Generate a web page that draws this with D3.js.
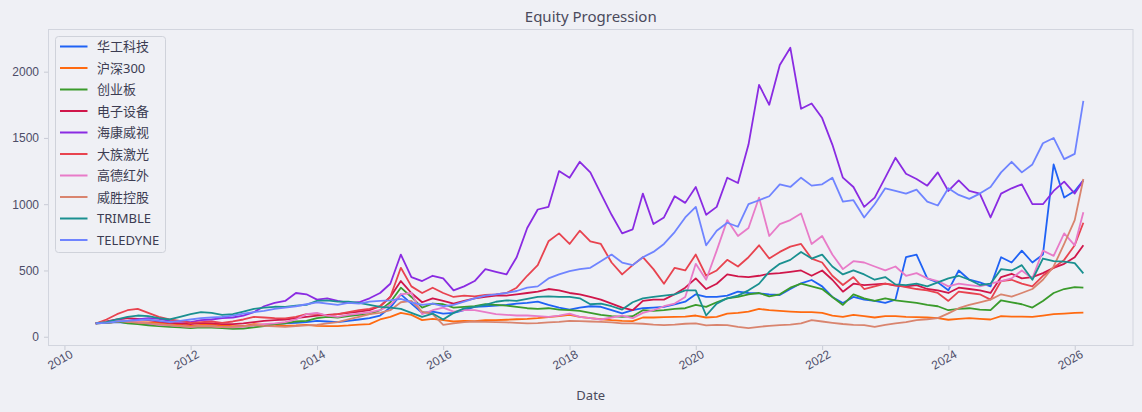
<!DOCTYPE html>
<html>
<head>
<meta charset="utf-8">
<script src="https://cdn.jsdelivr.net/npm/d3@7/dist/d3.min.js"></script>
<style>
    body { margin: 0; background: #eff0f5; }
    svg { display: block; font-family: "Noto Sans", "Noto Sans CJK SC", sans-serif; }
    .tick text { fill: #4d4d68; font-size: 12px; }
    .tick line { stroke: #c8cbd5; }
    .domain { display: none; }
    .line { fill: none; stroke-width: 1.8; stroke-linejoin: round; }
    .figtitle { fill: #4a4a5c; font-size: 15px; text-anchor: middle; }
    .xlabel { fill: #4a4a5c; font-size: 13px; text-anchor: middle; }
    .legtext { fill: #3c3c52; font-size: 13px; }
</style>
</head>
<body>
<script>
// Series names and colours, in legend order
const names = ["华工科技", "沪深300", "创业板", "电子设备", "海康威视",
    "大族激光", "高德红外", "威胜控股", "TRIMBLE", "TELEDYNE"];
const colors = ["#1f62f5", "#ff6a10", "#3a9b2b", "#d0164a", "#8a2be2",
    "#e8434f", "#e87bc8", "#d9846e", "#1a9090", "#6f84ff"];

// Sample dates: every two months from Jul 2010, plus the last day
const dates = d3.timeMonth.every(2)
    .range(new Date(2010, 6, 1), new Date(2026, 1, 1))
    .concat([new Date(2026, 1, 20)]);

// Values (start = 100), one row per year
const hgkj = [100, 105, 110,
    105, 100, 95, 90, 85, 80,
    80, 85, 80, 75, 75, 80,
    85, 90, 95, 100, 105, 110,
    120, 115, 110, 120, 130, 140,
    160, 220, 320, 250, 180, 190,
    175, 180, 200, 225, 230, 235,
    240, 250, 255, 265, 240, 220,
    205, 220, 230, 226, 200, 176,
    200, 215, 220, 226, 245, 264,
    320, 300, 300, 310, 340, 330,
    327, 320, 315, 360, 403, 428,
    380, 300, 255, 300, 280, 270,
    255, 280, 600, 620, 440, 410,
    350, 500, 430, 410, 380, 600,
    560, 650, 560, 620, 1300, 1050,
    1100, 1180];
const hs300 = [100, 105, 112,
    108, 110, 108, 105, 95, 92,
    82, 90, 92, 85, 80, 80,
    95, 92, 90, 82, 85, 90,
    82, 80, 80, 85, 92, 95,
    130, 150, 180, 165, 125, 135,
    125, 115, 120, 118, 125, 125,
    128, 132, 135, 140, 148, 155,
    165, 150, 140, 132, 125, 120,
    118, 145, 145, 148, 150, 152,
    160, 145, 150, 175, 180, 190,
    210, 200, 195, 190, 185, 185,
    180, 160, 150, 165, 155, 145,
    155, 155, 150, 148, 145, 140,
    128, 135, 140, 135, 130, 155,
    152, 152, 150, 160, 170, 175,
    180, 182];
const cyb = [100, 105, 115,
    100, 95, 85, 80, 75, 70,
    65, 70, 68, 65, 60, 62,
    70, 80, 95, 100, 115, 120,
    140, 150, 145, 155, 165, 170,
    200, 260, 370, 300, 220, 250,
    245, 220, 225, 230, 245, 240,
    235, 225, 215, 210, 215, 205,
    200, 195, 180, 165, 155, 150,
    155, 200, 195, 200, 210, 215,
    240, 225, 260, 290, 300, 320,
    330, 305, 320, 370, 400, 380,
    360, 300, 240, 320, 290, 270,
    290, 275, 265, 255, 240, 230,
    200, 210, 215, 205, 200, 275,
    260, 245, 220, 270, 330, 360,
    375, 370];
const dzsb = [100, 115, 130,
    140, 135, 125, 115, 105, 100,
    95, 105, 100, 95, 95, 100,
    110, 120, 125, 130, 140, 150,
    160, 165, 170, 180, 190, 200,
    230, 300, 420, 330, 260, 290,
    270, 250, 270, 290, 300, 310,
    310, 320, 330, 340, 360, 350,
    330, 320, 300, 280, 250, 220,
    200, 270, 280, 280, 320, 370,
    440, 360, 400, 470, 455, 450,
    460, 475, 480, 490, 500, 460,
    500, 430, 340, 400, 390, 395,
    400, 385, 380, 390, 360, 350,
    330, 370, 360, 350, 330, 450,
    475, 440, 450, 480, 520, 550,
    600, 690];
const hkws = [100, 110, 125,
    120, 130, 140, 135, 120, 115,
    110, 125, 130, 140, 145, 160,
    185, 230, 255, 270, 330, 320,
    280, 290, 270, 255, 260, 290,
    330, 400, 620, 450, 420, 460,
    440, 350, 380, 420, 510, 490,
    470, 600, 820, 960, 980, 1250,
    1200, 1320, 1240, 1080, 920, 780,
    810, 1080, 850, 900, 1060, 1010,
    1130, 920, 980, 1200, 1160, 1450,
    1900, 1750, 2050, 2180, 1720, 1760,
    1650, 1450, 1200, 1130, 980, 1050,
    1200, 1350, 1230, 1190, 1140, 1240,
    1100, 1180, 1100, 1080, 900, 1080,
    1120, 1150, 1000, 1000, 1100, 1170,
    1080, 1180];
const dzjg = [100, 130, 170,
    200, 210, 180, 150, 130, 120,
    105, 110, 115, 105, 115, 130,
    150, 145, 140, 138, 150, 170,
    175, 160, 170, 185, 200, 210,
    230, 300, 520, 380, 330, 370,
    330, 300, 310, 305, 315, 320,
    330, 370, 460, 540, 720, 780,
    700, 800, 720, 700, 560, 470,
    540, 600, 510, 400, 520, 500,
    620, 460, 500, 580, 530, 600,
    690, 590, 640, 680, 700, 590,
    560, 460, 390, 450, 360, 380,
    400, 390, 375, 360, 350, 330,
    270, 340, 330, 320, 280, 420,
    430, 400, 380, 460, 520, 580,
    690, 860];
const gdhw = [100, 110, 120,
    115, 110, 100, 90, 85, 80,
    75, 80, 78, 72, 70, 75,
    85, 95, 100, 110, 130, 170,
    180, 160, 150, 165, 175, 185,
    200, 240, 320, 330, 170, 200,
    220, 190, 200, 200, 185, 170,
    165, 160, 160, 155, 150, 160,
    175, 150, 140, 130, 145, 160,
    140, 180, 200, 230, 250, 300,
    550, 430, 650, 880, 760, 820,
    1050, 760, 850, 880, 930, 700,
    760, 620, 510, 570, 560, 530,
    500, 530, 460, 480, 440, 420,
    380, 400, 390, 380, 400, 420,
    440, 500, 440, 650, 610, 780,
    690, 940];
const wskg = [100, 110, 120,
    115, 105, 100, 95, 88, 80,
    75, 80, 78, 72, 75, 80,
    88, 82, 78, 75, 80, 85,
    90, 100, 110, 130, 150, 170,
    180, 200, 260, 270, 190, 170,
    90, 100, 110, 115, 112, 110,
    108, 105, 100, 102, 108, 112,
    120, 118, 115, 112, 108, 100,
    100, 98, 92, 88, 92, 98,
    100, 85, 90, 88, 75, 65,
    75, 82, 88, 92, 100, 125,
    115, 105, 96, 90, 88, 75,
    90, 101, 110, 126, 132, 140,
    176, 215, 240, 260, 280, 320,
    302, 330, 360, 430, 530, 700,
    880, 1190];
const trimble = [100, 110, 130,
    150, 160, 155, 140, 130, 150,
    170, 185, 180, 165, 170, 190,
    210, 220, 226, 225, 235, 240,
    270, 275, 265, 265, 255, 240,
    225, 220, 210, 180, 150, 175,
    130, 180, 214, 226, 240, 264,
    275, 270, 285, 300, 305, 300,
    300, 290, 245, 250, 230, 205,
    260, 290, 300, 310, 320, 350,
    350, 160, 250, 290, 310, 350,
    400, 490, 550, 580, 640, 590,
    620, 530, 470, 500, 470, 430,
    450, 395, 390, 400, 380, 410,
    440, 460, 430, 390, 400, 510,
    500, 540, 430, 590, 570, 566,
    555, 478];
const teledyne = [100, 105, 115,
    120, 125, 130, 120, 110, 120,
    130, 140, 145, 150, 160, 175,
    185, 195, 210, 220, 230, 245,
    260, 250, 240, 255, 250, 265,
    270, 275, 285, 260, 240, 250,
    230, 240, 265, 290, 310, 320,
    330, 345, 370, 380, 440, 470,
    495, 510, 520, 570, 620, 560,
    540, 600, 640, 700, 790, 900,
    980, 690, 800, 860, 830, 1000,
    1030, 1060, 1150, 1130, 1200, 1140,
    1150, 1200, 1020, 1030, 900, 1000,
    1120, 1100, 1080, 1110, 1020, 990,
    1120, 1070, 1040, 1080, 1130, 1240,
    1320, 1240, 1300, 1460, 1500, 1340,
    1380, 1780];

const seriesValues = [hgkj, hs300, cyb, dzsb, hkws, dzjg, gdhw, wskg, trimble, teledyne];

// Axis limits and ticks
const xLimits = [new Date(2009, 8, 28), new Date(2026, 11, 7)];
const yLimits = [-70, 2322];
const xTickYears = [2010, 2012, 2014, 2016, 2018, 2020, 2022, 2024, 2026];
const yTicks = [0, 500, 1000, 1500, 2000];

const W = 1142, H = 412;
const margin = {top: 29, left: 48, right: 8.5, bottom: 66};
const plotW = W - margin.left - margin.right,
    plotH = H - margin.top - margin.bottom;

const svg = d3.select("body")
    .append("svg")
    .attr("width", W)
    .attr("height", H);

svg.append("rect")
    .attr("width", W)
    .attr("height", H)
    .attr("fill", "#eff0f5");

// Figure title
svg.append("text")
    .attr("x", margin.left + plotW / 2)
    .attr("y", 22)
    .classed("figtitle", true)
    .text("Equity Progression");

const x = d3.scaleTime().domain(xLimits).range([0, plotW]);
const y = d3.scaleLinear().domain(yLimits).range([plotH, 0]);

const myPlot = svg.append("g")
    .attr("transform", "translate(" + margin.left + "," + margin.top + ")");

// x axis with rotated year labels
myPlot.append("g")
    .attr("id", "xaxis")
    .attr("transform", "translate(0," + plotH + ")")
    .call(d3.axisBottom(x)
        .tickValues(xTickYears.map(yr => new Date(yr, 0, 1)))
        .tickFormat(d3.timeFormat("%Y"))
        .tickSizeInner(4).tickSizeOuter(0).tickPadding(3))
    .selectAll(".tick text")
    .attr("text-anchor", "end")
    .attr("dx", "0.2em")
    .attr("dy", "0.55em")
    .attr("transform", "rotate(-30)");

myPlot.append("g")
    .attr("id", "yaxis")
    .call(d3.axisLeft(y)
        .tickValues(yTicks)
        .tickFormat(d3.format("d"))
        .tickSizeInner(4).tickSizeOuter(0).tickPadding(5));

// x label
svg.append("text")
    .attr("x", margin.left + plotW / 2)
    .attr("y", 400)
    .classed("xlabel", true)
    .text("Date");

// Lines
const myLine = d3.line()
    .x((d, i) => x(dates[i]))
    .y(d => y(d));

myPlot.append("g")
    .selectAll(".line")
    .data(seriesValues)
    .enter()
    .append("path")
    .classed("line", true)
    .attr("stroke", (d, i) => colors[i])
    .attr("d", d => myLine(d));

// Plot frame
myPlot.append("rect")
    .attr("x", 0.5)
    .attr("y", 0.5)
    .attr("width", plotW - 1)
    .attr("height", plotH - 1)
    .attr("fill", "none")
    .attr("stroke", "#d2d5de");

// Legend
const leg = svg.append("g")
    .attr("transform", "translate(55.5,36.5)");

leg.append("rect")
    .attr("width", 110)
    .attr("height", 216)
    .attr("rx", 3)
    .attr("fill", "#eff0f5")
    .attr("fill-opacity", 0.85)
    .attr("stroke", "#cfd2da");

const items = leg.selectAll(".item")
    .data(names)
    .enter()
    .append("g")
    .attr("transform", (d, i) => "translate(0," + (10 + i * 21.5) + ")");

items.append("line")
    .attr("x1", 4.5).attr("x2", 32)
    .attr("stroke", (d, i) => colors[i])
    .attr("stroke-width", 2);

items.append("text")
    .attr("x", 41.5)
    .attr("dy", "0.35em")
    .classed("legtext", true)
    .text(d => d);
</script>
</body>
</html>
